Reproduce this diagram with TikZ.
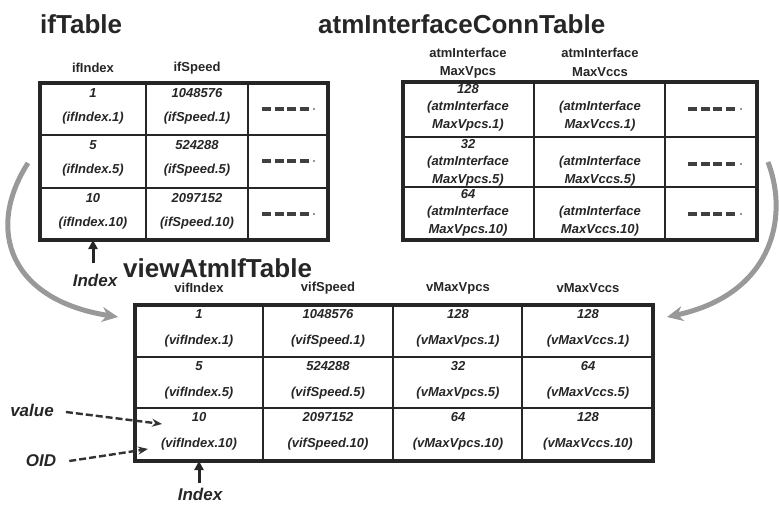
\documentclass[tikz,border=0pt]{standalone}
\usepackage{fontspec}
\setmainfont{Liberation Sans}
\usetikzlibrary{arrows.meta}
\begin{document}
\begin{tikzpicture}[x=1pt,y=-1pt,
  cell/.style={draw=black!85, line width=2.6pt, inner sep=0pt, outer sep=0pt},
  frame/.style={draw=black!85, line width=3.4pt},
  title/.style={font=\fontsize{26}{28}\selectfont\bfseries, anchor=base west, inner sep=0pt, text=black!85},
  head/.style={font=\fontsize{13}{14}\selectfont\bfseries, inner sep=0pt, text=black!85},
  val/.style={font=\fontsize{13}{14}\selectfont\bfseries\itshape, inner sep=0pt, text=black!85},
  lbl/.style={font=\fontsize{17}{18}\selectfont\bfseries\itshape, inner sep=0pt, text=black!85},
  more/.style={line width=3.2pt, draw=black!75, dash pattern=on 9pt off 3.5pt},
  moredot/.style={fill=black!55},
  idx/.style={line width=3pt, draw=black!85, -{Triangle[length=9pt,width=9pt]}},
  ptr/.style={line width=2.4pt, draw=black!80, dash pattern=on 7pt off 3pt, -{Stealth[length=10pt,width=8pt]}},
  flow/.style={line width=5pt, draw=black!40, -{Stealth[length=16pt,width=15pt]}}]

\useasboundingbox (0,0) rectangle (779,504);

% ---------- ifTable ----------
\node[title] (tif) at (40,33) {ifTable};
\node[head] (hif1) at (93,68) {ifIndex};
\node[head] (hif2) at (197,68) {ifSpeed};
\foreach \c/\xa/\xb in {1/40/146,2/146/248,3/248/328}
  \foreach \r/\ya/\yb in {1/83/135,2/135/188,3/188/240}
    \node[cell, minimum width={(\xb-\xa)*1pt}, minimum height={(\yb-\ya)*1pt}]
      (if-\r-\c) at ({(\xa+\xb)/2},{(\ya+\yb)/2}) {};
\draw[frame] (if-1-1.north west) rectangle (if-3-3.south east);
\foreach \r/\t/\n/\s in {1/83/1/1048576, 2/135/5/524288, 3/188/10/2097152} {
  \node[val] at (93,\t+10) {\n};
  \node[val] at (93,\t+35) {(ifIndex.\n)};
  \node[val] at (197,\t+10) {\s};
  \node[val] at (197,\t+35) {(ifSpeed.\n)};
  \draw[more] (262,\t+26) -- (309,\t+26);
  \fill[moredot] (314,\t+26) circle (1.2pt);
}

% ---------- atmInterfaceConnTable ----------
\node[title] (tatm) at (318,33) {atmInterfaceConnTable};
\node[head] (hatm1a) at (468,53) {atmInterface};
\node[head] (hatm1b) at (468,72) {MaxVpcs};
\node[head] (hatm2a) at (600,53) {atmInterface};
\node[head] (hatm2b) at (600,72) {MaxVccs};
\foreach \c/\xa/\xb in {1/403/534,2/534/665,3/665/757}
  \foreach \r/\ya/\yb in {1/82/137,2/137/187,3/187/240}
    \node[cell, minimum width={(\xb-\xa)*1pt}, minimum height={(\yb-\ya)*1pt}]
      (atm-\r-\c) at ({(\xa+\xb)/2},{(\ya+\yb)/2}) {};
\draw[frame] (atm-1-1.north west) rectangle (atm-3-3.south east);
\foreach \r/\t/\v/\n in {1/82/128/1, 2/137/32/5, 3/187/64/10} {
  \node[val] at (468,\t+7) {\v};
  \node[val] at (468,\t+25) {(atmInterface};
  \node[val] at (468,\t+43) {MaxVpcs.\n)};
  \node[val] at (600,\t+25) {(atmInterface};
  \node[val] at (600,\t+43) {MaxVccs.\n)};
  \draw[more] (688,\t+27) -- (735,\t+27);
  \fill[moredot] (741,\t+27) circle (1.2pt);
}

% ---------- viewAtmIfTable ----------
\node[title] (tview) at (123,277) {viewAtmIfTable};
\node[head] (hv1) at (199,288) {vifIndex};
\node[head] (hv2) at (328,288) {vifSpeed};
\node[head] (hv3) at (458,288) {vMaxVpcs};
\node[head] (hv4) at (588,288) {vMaxVccs};
\foreach \c/\xa/\xb in {1/135/263,2/263/393,3/393/522,4/522/653}
  \foreach \r/\ya/\yb in {1/305/357,2/357/408,3/408/461}
    \node[cell, minimum width={(\xb-\xa)*1pt}, minimum height={(\yb-\ya)*1pt}]
      (v-\r-\c) at ({(\xa+\xb)/2},{(\ya+\yb)/2}) {};
\draw[frame] (v-1-1.north west) rectangle (v-3-4.south east);
\foreach \t/\n/\s/\p/\q in {305/1/1048576/128/128, 357/5/524288/32/64, 408/10/2097152/64/128} {
  \node[val] at (199,\t+9) {\n};
  \node[val] at (199,\t+36) {(vifIndex.\n)};
  \node[val] at (328,\t+9) {\s};
  \node[val] at (328,\t+36) {(vifSpeed.\n)};
  \node[val] at (458,\t+9) {\p};
  \node[val] at (458,\t+36) {(vMaxVpcs.\n)};
  \node[val] at (588,\t+9) {\q};
  \node[val] at (588,\t+36) {(vMaxVccs.\n)};
}

% ---------- index markers ----------
\node[lbl, anchor=base] (idxtop) at (95,286) {Index};
\draw[idx] ([yshift=10pt]idxtop.north -| if-3-1.south) -- (if-3-1.south);
\node[lbl, anchor=base] (idxbot) at (200,500) {Index};
\draw[idx] ([yshift=4pt]idxbot.north -| v-3-1.south) -- (v-3-1.south);

% ---------- value / OID pointers ----------
\node[lbl] (valuelbl) at (32,410) {value};
\node[lbl] (oidlbl) at (41,461) {OID};
\coordinate (valtgt) at (162,424);
\coordinate (oidtgt) at (148,449);
\draw[ptr] ([xshift=12pt,yshift=-2pt]valuelbl.east) -- (valtgt);
\draw[ptr] ([xshift=13pt]oidlbl.east) -- (oidtgt);

% ---------- table flow arrows ----------
\coordinate (ifout) at (28,163);
\coordinate (viewinL) at (118,317);
\coordinate (atmout) at (768,162);
\coordinate (viewinR) at (667,317);
\draw[flow] (ifout) .. controls (-15,230) and (10,300) .. (viewinL);
\draw[flow] (atmout) .. controls (790,220) and (770,295) .. (viewinR);
\end{tikzpicture}
\end{document}
